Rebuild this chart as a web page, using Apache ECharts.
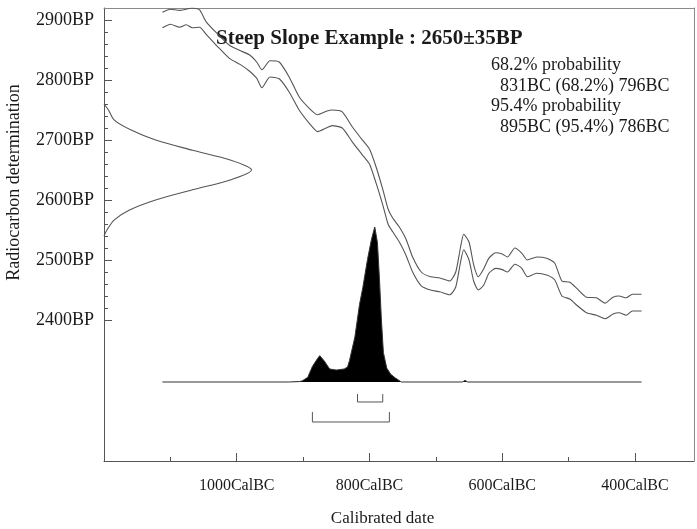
<!DOCTYPE html>
<html>
<head>
<meta charset="utf-8">
<script src="https://cdn.jsdelivr.net/npm/echarts@6/dist/echarts.min.js"></script>
<style>
html,body{margin:0;padding:0;background:#fff;}
#chart{width:697px;height:529px;}
</style>
</head>
<body>
<div id="chart"></div>
<script>
// ---------- data (years are BC, radiocarbon ages are BP) ----------
const curveYears = [1112,1100,1086,1076,1067,1056,1046,1030,1011,995,981,970,962,950,936,921,906,890,878,865,856,841,826,812,800,790,780,772,765,755,745,735,722,708,694,679,670,663,658,650,643,636,628,620,610,600,592,581,571,562,548,533,521,510,498,488,473,458,445,433,424,413,404,390];
const upperBP = [2913,2918,2916,2918,2920,2917,2897,2878,2858,2849,2842,2830,2817,2832,2830,2805,2772,2752,2742,2748,2750,2747,2722,2702,2685,2655,2618,2585,2570,2555,2535,2505,2480,2472,2470,2465,2480,2520,2543,2530,2492,2472,2485,2503,2512,2510,2505,2520,2512,2500,2505,2503,2495,2465,2463,2453,2438,2437,2428,2438,2440,2437,2443,2443];
const lowerBP = [2887,2893,2888,2892,2887,2888,2876,2857,2836,2826,2815,2803,2787,2805,2802,2780,2750,2727,2714,2720,2724,2720,2697,2677,2660,2628,2592,2560,2547,2530,2508,2480,2457,2450,2447,2442,2455,2495,2517,2500,2465,2450,2458,2478,2486,2484,2480,2493,2487,2472,2478,2475,2467,2440,2435,2425,2412,2408,2402,2410,2412,2408,2415,2415];

// measured radiocarbon date (normal distribution drawn against the BP axis)
const gaussBP  = [2760,2750,2733,2717,2700,2683,2667,2650,2633,2617,2600,2583,2567,2550,2540];
const gaussAmp = [0,0.03,0.07,0.18,0.35,0.60,0.85,1.0,0.85,0.60,0.35,0.17,0.07,0.02,0];

// calibrated probability distribution
const distYears = [1112,921,905,901,893,886,880,875,868,860,850,838,833,830,822,815,810,803,797,792,788,785,782,779,774,768,761,752,660,656,652,390];
const distProb  = [0,0,0.003,0.008,0.03,0.10,0.14,0.17,0.135,0.084,0.077,0.084,0.097,0.14,0.29,0.50,0.61,0.79,0.92,1.0,0.90,0.67,0.40,0.19,0.09,0.05,0.026,0,0,0.01,0,0];

// range brackets as drawn under the distribution
const range68 = [818, 780];
const range95 = [886, 770];

// axis ticks
const xMajorTicks = [1000, 800, 600, 400];
const xMinorTicks = [1100, 900, 700, 500];
const yMajorTicks = [2400, 2500, 2600, 2700, 2800, 2900];
const yMinorTicks = [2420,2440,2460,2480,2520,2540,2560,2580,2620,2640,2660,2680,2720,2740,2760,2780,2820,2840,2860,2880];

const titleText = 'Steep Slope Example : 2650\u00B135BP';
const rangeTexts = ['68.2% probability', '  831BC (68.2%) 796BC', '95.4% probability', '  895BC (95.4%) 786BC'];
const xTitle = 'Calibrated date';
const yTitle = 'Radiocarbon determination';

// ---------- chart ----------
const FONT = '"Liberation Serif", "Times New Roman", serif';
const TXT = '#1a1a1a';
const AX = '#555';
const BORDER = '#8a8a8a';

const xMin = -1200, xMax = -311;
const yMin = 2165, yMax = 2920;

const bracket = (r, top, bot) => [[-r[0], top], [-r[0], bot], [-r[1], bot], [-r[1], top]];

const chart = echarts.init(document.getElementById('chart'), null, {renderer: 'canvas'});
chart.setOption({
  animation: false,
  backgroundColor: '#fff',
  grid: {left: 104, right: 3, top: 8, bottom: 68, containLabel: false},
  xAxis: [
    { type: 'value', min: xMin, max: xMax, position: 'bottom',
      axisLine: {show: true, onZero: false, lineStyle: {color: AX, width: 1}},
      axisTick: {show: true, inside: true, length: 8, lineStyle: {color: AX}, customValues: xMajorTicks.map(v => -v)},
      axisLabel: {show: true, margin: 17, color: TXT, fontFamily: FONT, fontSize: 16,
                  customValues: xMajorTicks.map(v => -v), formatter: v => (-v) + 'CalBC'},
      splitLine: {show: false} },
    { type: 'value', min: xMin, max: xMax, position: 'bottom',
      axisLine: {show: false, onZero: false},
      axisTick: {show: true, inside: true, length: 4, lineStyle: {color: AX}, customValues: xMinorTicks.map(v => -v)},
      axisLabel: {show: false}, splitLine: {show: false} },
    { type: 'value', min: xMin, max: xMax, position: 'top',
      axisLine: {show: true, onZero: false, lineStyle: {color: BORDER, width: 1}},
      axisTick: {show: false}, axisLabel: {show: false}, splitLine: {show: false} },
    { type: 'value', min: 0, max: 4, show: false, axisLine: {onZero: false} }
  ],
  yAxis: [
    { type: 'value', min: yMin, max: yMax, position: 'left',
      axisLine: {show: true, onZero: false, lineStyle: {color: AX, width: 1}},
      axisTick: {show: true, inside: true, length: 8, lineStyle: {color: AX}, customValues: yMajorTicks},
      axisLabel: {show: true, margin: 10, color: TXT, fontFamily: FONT, fontSize: 18,
                  customValues: yMajorTicks, formatter: v => v + 'BP', padding: [0, 0, 6, 0]},
      splitLine: {show: false} },
    { type: 'value', min: yMin, max: yMax, position: 'left',
      axisLine: {show: false, onZero: false},
      axisTick: {show: true, inside: true, length: 4, lineStyle: {color: AX}, customValues: yMinorTicks},
      axisLabel: {show: false}, splitLine: {show: false} },
    { type: 'value', min: yMin, max: yMax, position: 'right',
      axisLine: {show: true, onZero: false, lineStyle: {color: BORDER, width: 1}},
      axisTick: {show: false}, axisLabel: {show: false}, splitLine: {show: false} },
    { type: 'value', min: -0.5097, max: 2.4129, show: false, axisLine: {onZero: false} }
  ],
  series: [
    { type: 'line', name: 'upper', xAxisIndex: 0, yAxisIndex: 0, showSymbol: false, symbol: 'none',
      smooth: 0.2, lineStyle: {color: '#555', width: 1.1},
      data: curveYears.map((y, i) => [-y, upperBP[i]]) },
    { type: 'line', name: 'lower', xAxisIndex: 0, yAxisIndex: 0, showSymbol: false, symbol: 'none',
      smooth: 0.2, lineStyle: {color: '#555', width: 1.1},
      data: curveYears.map((y, i) => [-y, lowerBP[i]]) },
    { type: 'line', name: 'measurement', xAxisIndex: 3, yAxisIndex: 0, showSymbol: false, symbol: 'none',
      smooth: 0.3, lineStyle: {color: '#555', width: 1.1},
      data: gaussBP.map((b, i) => [gaussAmp[i], b]) },
    { type: 'line', name: 'calibrated', xAxisIndex: 0, yAxisIndex: 3, showSymbol: false, symbol: 'none',
      lineStyle: {color: '#333', width: 1}, areaStyle: {color: '#000', opacity: 1},
      data: distYears.map((y, i) => [-y, distProb[i]]) },
    { type: 'line', name: 'range68', xAxisIndex: 0, yAxisIndex: 3, showSymbol: false, symbol: 'none',
      lineStyle: {color: '#555', width: 1}, data: bracket(range68, -0.077, -0.129) },
    { type: 'line', name: 'range95', xAxisIndex: 0, yAxisIndex: 3, showSymbol: false, symbol: 'none',
      lineStyle: {color: '#555', width: 1}, data: bracket(range95, -0.194, -0.258) }
  ],
  graphic: [
    { type: 'text', x: 216, y: 38.5, silent: true,
      style: {text: titleText, font: 'bold 21px ' + FONT, fill: TXT, textAlign: 'left', textVerticalAlign: 'middle'} },
    { type: 'text', x: 491, y: 65.5, silent: true,
      style: {text: rangeTexts[0], font: '18px ' + FONT, fill: TXT, textAlign: 'left', textVerticalAlign: 'middle'} },
    { type: 'text', x: 491, y: 86, silent: true,
      style: {text: rangeTexts[1], font: '18px ' + FONT, fill: TXT, textAlign: 'left', textVerticalAlign: 'middle'} },
    { type: 'text', x: 491, y: 106.5, silent: true,
      style: {text: rangeTexts[2], font: '18px ' + FONT, fill: TXT, textAlign: 'left', textVerticalAlign: 'middle'} },
    { type: 'text', x: 491, y: 127, silent: true,
      style: {text: rangeTexts[3], font: '18px ' + FONT, fill: TXT, textAlign: 'left', textVerticalAlign: 'middle'} },
    { type: 'text', x: 382.5, y: 519, silent: true,
      style: {text: xTitle, font: '17px ' + FONT, fill: TXT, textAlign: 'center', textVerticalAlign: 'middle'} },
    { type: 'text', x: 14.5, y: 182.5, rotation: Math.PI / 2, silent: true,
      style: {text: yTitle, font: '18px ' + FONT, fill: TXT, textAlign: 'center', textVerticalAlign: 'middle'} }
  ]
});
</script>
</body>
</html>
